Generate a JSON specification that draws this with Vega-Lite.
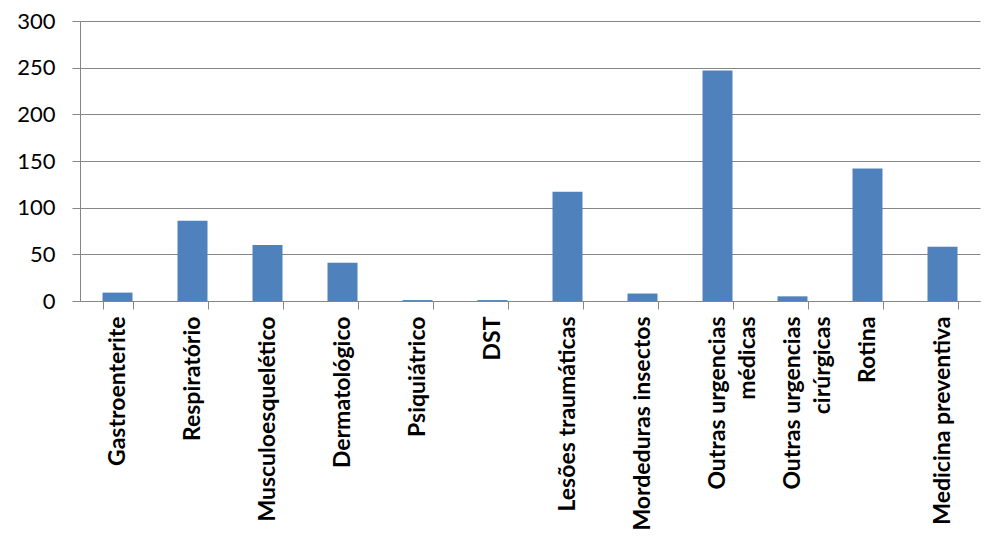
{
  "$schema": "https://vega.github.io/schema/vega-lite/v6.json",
  "width": 900,
  "height": 280,
  "autosize": {"type": "none"},
  "padding": {"left": 80, "top": 21, "right": 10, "bottom": 244},
  "background": "white",
  "data": {
    "values": [
      {"categoria": "Gastroenterite", "valor": 9},
      {"categoria": "Respiratório", "valor": 86},
      {"categoria": "Musculoesquelético", "valor": 60},
      {"categoria": "Dermatológico", "valor": 41},
      {"categoria": "Psiquiátrico", "valor": 1},
      {"categoria": "DST", "valor": 1},
      {"categoria": "Lesões traumáticas", "valor": 117},
      {"categoria": "Mordeduras insectos", "valor": 8},
      {"categoria": "Outras urgencias médicas", "valor": 247},
      {"categoria": "Outras urgencias cirúrgicas", "valor": 5},
      {"categoria": "Rotina", "valor": 142},
      {"categoria": "Medicina preventiva", "valor": 58}
    ]
  },
  "mark": {"type": "bar", "color": "#4F81BD"},
  "encoding": {
    "x": {
      "field": "categoria",
      "type": "nominal",
      "sort": null,
      "title": null,
      "scale": {"paddingInner": 0.6, "paddingOuter": 0.3},
      "axis": {
        "labelAngle": -90,
        "labelAlign": "right",
        "labelBaseline": "middle",
        "labelExpr": "datum.label == 'Outras urgencias médicas' ? ['Outras urgencias', 'médicas\u00a0\u00a0\u00a0\u00a0\u00a0\u00a0\u00a0\u00a0\u00a0\u00a0'] : datum.label == 'Outras urgencias cirúrgicas' ? ['Outras urgencias', 'cirúrgicas\u00a0\u00a0\u00a0\u00a0\u00a0\u00a0\u00a0\u00a0'] : datum.label",
        "labelFont": "Lato",
        "labelFontSize": 23,
        "labelFontWeight": "bold",
        "labelColor": "#000000",
        "labelLineHeight": 30,
        "labelPadding": 7,
        "labelLimit": 300,
        "tickBand": "extent",
        "tickSize": 8,
        "tickColor": "#868686",
        "domainColor": "#868686",
        "grid": false
      }
    },
    "y": {
      "field": "valor",
      "type": "quantitative",
      "title": null,
      "scale": {"domain": [0, 300]},
      "axis": {
        "values": [0, 50, 100, 150, 200, 250, 300],
        "labelFont": "Lato",
        "labelFontSize": 22,
        "labelColor": "#000000",
        "labelPadding": 17,
        "tickSize": 8,
        "tickColor": "#868686",
        "domainColor": "#868686",
        "gridColor": "#868686",
        "gridWidth": 1
      }
    }
  },
  "config": {
    "view": {"stroke": null}
  }
}
